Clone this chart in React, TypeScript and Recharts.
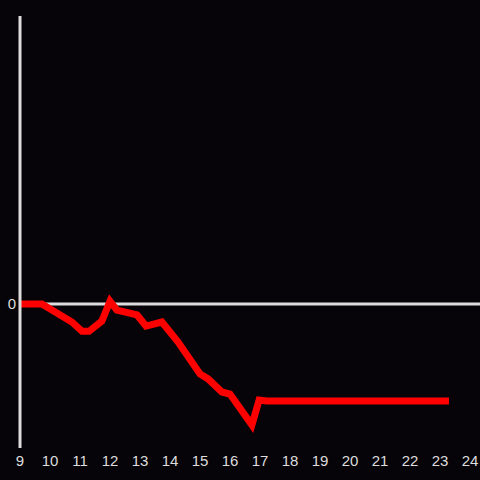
import React from 'react';
import { LineChart, Line, XAxis, YAxis, ReferenceLine } from 'recharts';

const hours = [9, 9.73, 10.73, 11.07, 11.3, 11.73, 12.0, 12.23, 12.9, 13.2, 13.73, 14.27, 15.0, 15.27, 15.73, 16.0, 16.73, 16.97, 17.23, 23.3];
const values = [0, 0, -0.125, -0.19, -0.19, -0.118, 0.02, -0.042, -0.076, -0.153, -0.125, -0.264, -0.486, -0.52, -0.611, -0.625, -0.84, -0.667, -0.674, -0.674];
const xTicks = [9, 10, 11, 12, 13, 14, 15, 16, 17, 18, 19, 20, 21, 22, 23, 24];
const yTicks = [0];

const data = hours.map((h, i) => ({ x: h, y: values[i] }));

const bg = '#060409';
const axisColor = '#dddddd';
const tickStyle = { fontSize: 15, fill: '#dddddd', fontFamily: 'Liberation Sans, Arial, sans-serif' };

export default function App() {
  return (
    <div style={{ position: 'fixed', left: 0, top: 0, width: 480, height: 480, background: bg }}>
      <LineChart width={480} height={480} data={data} margin={{ top: 16, right: 0, bottom: 0, left: 0 }}>
        <XAxis
          dataKey="x"
          type="number"
          domain={[9, 24.333]}
          ticks={xTicks}
          allowDataOverflow
          axisLine={false}
          tickLine={false}
          tickSize={5}
          tickMargin={2}
          height={32}
          tick={tickStyle}
          interval={0}
        />
        <YAxis
          type="number"
          domain={[-1, 2]}
          ticks={yTicks}
          width={20}
          axisLine={{ stroke: axisColor, strokeWidth: 3 }}
          tickLine={false}
          tickSize={2}
          tickMargin={2}
          tick={tickStyle}
        />
        <ReferenceLine y={0} stroke={axisColor} strokeWidth={3} />
        <Line
          type="linear"
          dataKey="y"
          stroke="#ff0000"
          strokeWidth={7}
          dot={false}
          isAnimationActive={false}
        />
      </LineChart>
    </div>
  );
}
